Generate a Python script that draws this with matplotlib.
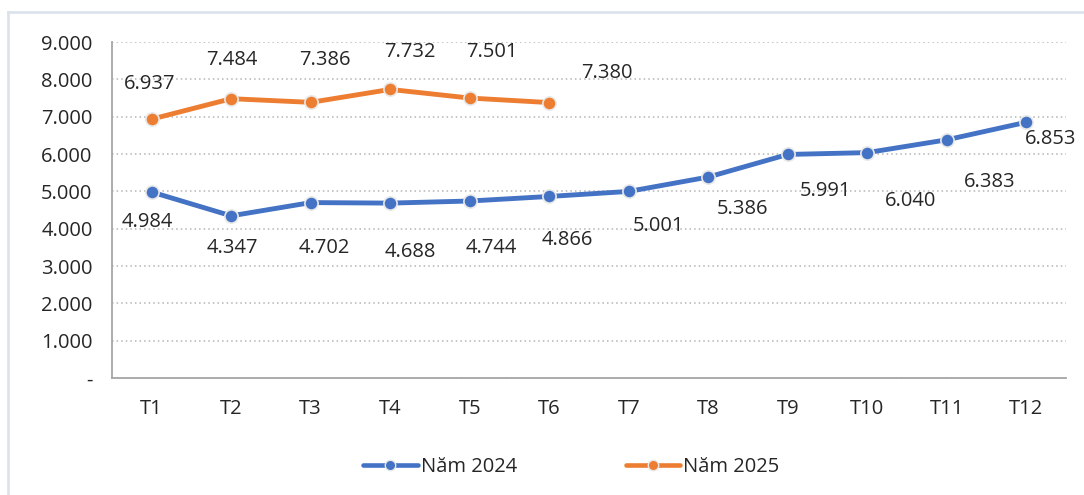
import matplotlib.pyplot as plt
from matplotlib.lines import Line2D
from matplotlib.ticker import FuncFormatter

months = ["T1", "T2", "T3", "T4", "T5", "T6", "T7", "T8", "T9", "T10", "T11", "T12"]
values_2024 = [4984, 4347, 4702, 4688, 4744, 4866, 5001, 5386, 5991, 6040, 6383, 6853]
values_2025 = [6937, 7484, 7386, 7732, 7501, 7380]

# label offsets in pixels (dx, dy) relative to each point
offsets_2024 = [(-4, -30), (1, -32), (14, -45), (20, -49), (22, -47), (18, -44),
                (30, -35), (34, -32), (38, -37), (43, -48), (43, -42), (24, -17)]
offsets_2025 = [(-2, 35), (1, 39), (14, 42), (20, 37), (22, 46), (58, 30)]

blue = "#4472C4"
orange = "#ED7D31"
text_color = "#262626"

plt.rcParams["font.family"] = ["Open Sans", "DejaVu Sans"]

fig = plt.figure(figsize=(10.84, 4.95), dpi=100)
ax = fig.add_axes([0.1033, 0.236, 0.8801, 0.679])

x = list(range(len(months)))

ax.plot(x, values_2024, color=blue, lw=3.5, marker="o", ms=9.5,
        mfc=blue, mec="#e8e8e8", mew=1.2, solid_capstyle="round", zorder=3)
ax.plot(x[:len(values_2025)], values_2025, color=orange, lw=3.5, marker="o", ms=9.5,
        mfc=orange, mec="#e8e8e8", mew=1.2, solid_capstyle="round", zorder=3)


def fmt(v):
    return f"{v:,.0f}".replace(",", ".")


for i, v in enumerate(values_2024):
    dx, dy = offsets_2024[i]
    ax.annotate(fmt(v), (x[i], v), xytext=(dx, dy), textcoords="offset pixels",
                ha="center", va="center", fontsize=14.5, color=text_color)
for i, v in enumerate(values_2025):
    dx, dy = offsets_2025[i]
    ax.annotate(fmt(v), (x[i], v), xytext=(dx, dy), textcoords="offset pixels",
                ha="center", va="center", fontsize=14.5, color=text_color)

ax.set_xlim(-0.5, len(months) - 0.5)
ax.set_ylim(0, 9000)
ax.set_yticks(range(0, 9001, 1000))
ax.yaxis.set_major_formatter(FuncFormatter(lambda v, p: "-" if v == 0 else fmt(v)))
ax.set_xticks(x)
ax.set_xticklabels(months)
ax.tick_params(axis="both", length=0, labelsize=14.5, colors=text_color)
ax.tick_params(axis="y", pad=14)
ax.tick_params(axis="x", pad=15)

ax.grid(axis="y", color="#b4b4b4", linestyle=(0, (1, 2)), lw=1.1)
ax.set_axisbelow(True)
for s in ["top", "right"]:
    ax.spines[s].set_visible(False)
ax.spines["left"].set_color("#a6a6a6")
ax.spines["bottom"].set_color("#a6a6a6")
ax.spines["left"].set_linewidth(1.3)
ax.spines["bottom"].set_linewidth(1.3)

handles = [
    Line2D([0], [0], color=blue, lw=3.3, marker="o", ms=7.5, mfc=blue, mec="#e8e8e8",
           solid_capstyle="round"),
    Line2D([0], [0], color=orange, lw=3.3, marker="o", ms=7.5, mfc=orange, mec="#e8e8e8",
           solid_capstyle="round"),
]
fig.legend(handles, ["Năm 2024", "Năm 2025"], loc="center", bbox_to_anchor=(0.527, 0.057),
           ncol=2, frameon=False, fontsize=14.5, handlelength=2.7, handletextpad=0.15,
           columnspacing=5.4, labelcolor=text_color)

# outer chart frame (top and left edges visible)
fig.add_artist(Line2D([8 / 1084, 1], [1 - 12 / 495, 1 - 12 / 495], transform=fig.transFigure,
                      color="#dde3ec", lw=2))
fig.add_artist(Line2D([8 / 1084, 8 / 1084], [0, 1 - 12 / 495], transform=fig.transFigure,
                      color="#dde3ec", lw=2))

fig.savefig("out.png", dpi=100)
